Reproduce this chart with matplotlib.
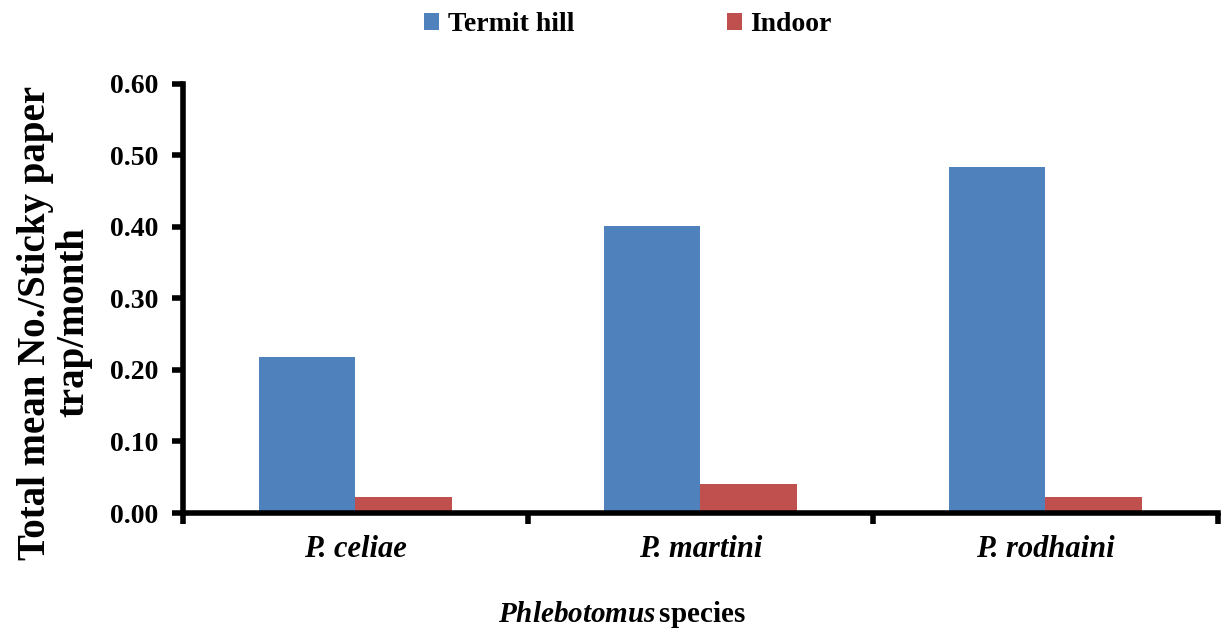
import numpy as np
import matplotlib.pyplot as plt
import matplotlib.patheffects as pe

plt.rcParams['font.family'] = 'Liberation Serif'
plt.rcParams['font.weight'] = 'bold'
plt.rcParams['mathtext.fontset'] = 'custom'
plt.rcParams['mathtext.it'] = 'Liberation Serif:italic:bold'
plt.rcParams['mathtext.rm'] = 'Liberation Serif:bold'

# mean catch per sticky paper trap per month
species = ['P. celiae', 'P. martini', 'P. rodhaini']
termit_hill = [0.218, 0.401, 0.484]
indoor = [0.022, 0.040, 0.022]

fig = plt.figure(figsize=(12.24, 6.31), dpi=100)
ax = fig.add_axes([0.1495, 0.187, 0.8455, 0.68])

x = np.arange(len(species))
w = 0.28
ax.bar(x - w / 2, termit_hill, w, color='#4F81BD', label='Termit hill')
ax.bar(x + w / 2, indoor, w, color='#C0504D', label='Indoor')

ax.set_xlim(-0.5, 2.5)
ax.set_ylim(0, 0.6)
ax.set_yticks(np.arange(0, 0.61, 0.1))
ax.set_yticklabels(['%.2f' % v for v in np.arange(0, 0.61, 0.1)], fontsize=20)

# tick marks sit between groups, labels under each group
ax.set_xticks(np.arange(-0.5, 3, 1))
ax.set_xticklabels([])
ax.set_xticks(x, minor=True)
ax.set_xticklabels(species, minor=True, fontsize=22, style='italic')
ax.tick_params(axis='x', which='minor', length=0, pad=16)
ax.tick_params(axis='x', which='major', length=8, width=4, direction='out')
ax.tick_params(axis='y', length=8, width=4, direction='out', pad=10)

for s in ['top', 'right']:
    ax.spines[s].set_visible(False)
shadow = [pe.SimplePatchShadow(offset=(2, -2), alpha=0.25), pe.Normal()]
for s in ['left', 'bottom']:
    ax.spines[s].set_linewidth(4)
    ax.spines[s].set_path_effects(shadow)

ax.set_ylabel('Total mean No./Sticky paper\ntrap/month', fontsize=28,
              fontweight='bold', linespacing=1.05)
ax.yaxis.set_label_coords(-0.088, 0.444)
fig.text(0.508, 0.002, r'$\mathit{Phlebotomus}\,$species', fontsize=21,
         fontweight='bold', ha='center', va='bottom')

fig.legend(loc='upper center', bbox_to_anchor=(0.513, 1.02), ncol=2,
           frameon=False, fontsize=20, handlelength=0.55, handleheight=0.55,
           handletextpad=0.3, columnspacing=5.5)

fig.savefig('out.png', dpi=100)
